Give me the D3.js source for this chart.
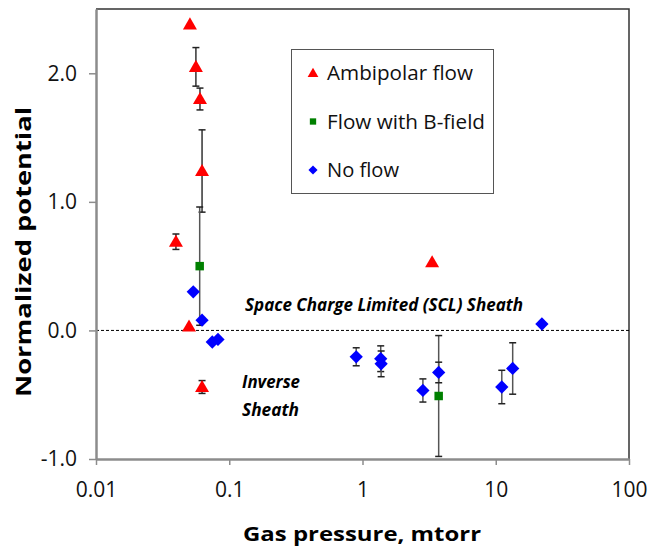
<!DOCTYPE html>
<html>
<head>
<meta charset="utf-8">
<script src="https://unpkg.com/d3@7/dist/d3.min.js"></script>
<style>
  body { margin: 0; background: #fff; }
  text { font-family: "Open Sans", "Liberation Sans", sans-serif; }
</style>
</head>
<body>
<div id="chart"></div>
<script>
// Series data: [pressure (mtorr), normalized potential, error]
const ambipolar = [
  [0.0507, 2.38, 0],
  [0.0562, 2.05, 0.15],
  [0.0603, 1.80, 0.085],
  [0.0625, 1.24, 0.32],
  [0.0398, 0.69, 0.06],
  [0.0499, 0.03, 0],
  [0.0625, -0.44, 0.05],
  [3.33, 0.53, 0]
];
const bfield = [
  [0.0600, 0.50, 0.46],
  [3.73, -0.51, 0.47]
];
const noflow = [
  [0.0537, 0.30, 0],
  [0.0625, 0.08, 0],
  [0.0746, -0.09, 0],
  [0.0823, -0.07, 0],
  [0.897, -0.205, 0.07],
  [1.37, -0.22, 0.1],
  [1.38, -0.26, 0.1],
  [2.84, -0.467, 0.09],
  [3.73, -0.327, 0.08],
  [11.1, -0.44, 0.13],
  [13.4, -0.296, 0.2],
  [22.2, 0.05, 0]
];
const xTicks = [0.01, 0.1, 1, 10, 100];
const xTickLabels = ["0.01", "0.1", "1", "10", "100"];
const yTicks = [-1, 0, 1, 2];
const legendLabels = ["Ambipolar flow", "Flow with B-field", "No flow"];

const W = 648, H = 550;
const mLeft = 96, mRight = 629, mTop = 9, mBottom = 459;

const svg = d3.select("#chart").append("svg")
  .attr("width", W)
  .attr("height", H);

const x = d3.scaleLog().domain([0.01, 100]).range([mLeft, mRight]);
const y = d3.scaleLinear().domain([-1, 2.5]).range([mBottom, mTop]);

// plot frame (top + right)
svg.append("path")
  .attr("d", `M${mLeft},${mTop}H${mRight}V${mBottom}`)
  .attr("fill", "none")
  .attr("stroke", "#333")
  .attr("stroke-width", 1.5);

// zero reference line
svg.append("line")
  .attr("x1", mLeft).attr("x2", mRight)
  .attr("y1", y(0)).attr("y2", y(0))
  .attr("stroke", "#000")
  .attr("stroke-width", 1)
  .attr("stroke-dasharray", "3,2");

// axes
const xAxis = d3.axisBottom(x)
  .tickValues(xTicks)
  .tickFormat((d, i) => xTickLabels[i])
  .tickSize(6)
  .tickSizeOuter(0)
  .tickPadding(17);
const gx = svg.append("g")
  .attr("transform", `translate(0,${mBottom})`)
  .call(xAxis);

const yAxis = d3.axisLeft(y)
  .tickValues(yTicks)
  .tickFormat(d => d.toFixed(1))
  .tickSize(7)
  .tickSizeOuter(0)
  .tickPadding(12);
const gy = svg.append("g")
  .attr("transform", `translate(${mLeft},0)`)
  .call(yAxis);

[gx, gy].forEach(g => {
  g.select(".domain").attr("stroke", "#8c8c8c").attr("stroke-width", 2.5);
  g.selectAll(".tick line").attr("stroke", "#8c8c8c").attr("stroke-width", 1.5);
  g.selectAll(".tick text")
    .attr("fill", "#111")
    .attr("font-size", 21)
    .attr("font-family", '"Open Sans", sans-serif');
});

// error bars
function errorBars(data, color) {
  const g = svg.append("g");
  data.filter(d => d[2] > 0).forEach(d => {
    const cx = x(d[0]);
    const y1 = y(Math.min(d[1] + d[2], 2.5));
    const y2 = y(Math.max(d[1] - d[2], -1));
    g.append("line").attr("x1", cx).attr("x2", cx).attr("y1", y1).attr("y2", y2)
      .attr("stroke", color).attr("stroke-width", 1.5);
    [y1, y2].forEach(yy => {
      g.append("line").attr("x1", cx - 3.5).attr("x2", cx + 3.5).attr("y1", yy).attr("y2", yy)
        .attr("stroke", "#222").attr("stroke-width", 1.5);
    });
  });
}
errorBars(ambipolar, "#333");
errorBars(bfield, "#555");
errorBars(noflow, "#555");

const triangle = d3.symbol().type(d3.symbolTriangle).size(85);
const square = d3.symbol().type(d3.symbolSquare).size(72);
const diamond = d3.symbol().type(d3.symbolSquare).size(88);

function drawPoints(data, sym, color, dy, rot) {
  svg.append("g").selectAll("path")
    .data(data)
    .enter()
    .append("path")
    .attr("d", sym)
    .attr("transform", d => `translate(${x(d[0])},${y(d[1]) + dy}) rotate(${rot})`)
    .attr("fill", color);
}
drawPoints(noflow, diamond, "#0000ff", 0, 45);
drawPoints(bfield, square, "#008000", 0, 0);
drawPoints(ambipolar, triangle, "#ff0000", 1, 0);

// annotations
svg.append("text")
  .attr("x", 384).attr("y", 311)
  .attr("text-anchor", "middle")
  .attr("font-size", 17)
  .attr("font-weight", "bold")
  .attr("font-style", "italic")
  .attr("textLength", 278)
  .attr("lengthAdjust", "spacingAndGlyphs")
  .text("Space Charge Limited (SCL) Sheath");
svg.append("text")
  .attr("x", 242).attr("y", 388)
  .attr("font-size", 17)
  .attr("font-weight", "bold")
  .attr("font-style", "italic")
  .attr("textLength", 58)
  .attr("lengthAdjust", "spacingAndGlyphs")
  .text("Inverse");
svg.append("text")
  .attr("x", 242).attr("y", 416)
  .attr("font-size", 17)
  .attr("font-weight", "bold")
  .attr("font-style", "italic")
  .attr("textLength", 57)
  .attr("lengthAdjust", "spacingAndGlyphs")
  .text("Sheath");

// legend
svg.append("rect")
  .attr("x", 291.5).attr("y", 49.5)
  .attr("width", 202).attr("height", 144)
  .attr("fill", "#fff")
  .attr("stroke", "#555")
  .attr("stroke-width", 1);
const legSyms = [
  [d3.symbol().type(d3.symbolTriangle).size(50), "#ff0000", 0],
  [d3.symbol().type(d3.symbolSquare).size(40), "#008000", 0],
  [d3.symbol().type(d3.symbolSquare).size(42), "#0000ff", 45]
];
const legWidths = [146, 158, 72];
legendLabels.forEach((lab, i) => {
  const ly = 73 + i * 48.5;
  svg.append("path")
    .attr("d", legSyms[i][0])
    .attr("transform", `translate(313,${ly + (i === 0 ? 1 : 0)}) rotate(${legSyms[i][2]})`)
    .attr("fill", legSyms[i][1]);
  svg.append("text")
    .attr("x", 327).attr("y", ly + 7)
    .attr("font-size", 20)
    .attr("fill", "#111")
    .attr("textLength", legWidths[i])
    .attr("lengthAdjust", "spacingAndGlyphs")
    .text(lab);
});

// axis titles
svg.append("text")
  .attr("x", 362).attr("y", 541)
  .attr("text-anchor", "middle")
  .attr("font-size", 20)
  .attr("font-weight", "bold")
  .attr("textLength", 238)
  .attr("lengthAdjust", "spacingAndGlyphs")
  .text("Gas pressure, mtorr");
svg.append("text")
  .attr("transform", "translate(31,252) rotate(-90)")
  .attr("text-anchor", "middle")
  .attr("font-size", 21)
  .attr("font-weight", "bold")
  .attr("textLength", 290)
  .attr("lengthAdjust", "spacingAndGlyphs")
  .text("Normalized potential");
</script>
</body>
</html>
